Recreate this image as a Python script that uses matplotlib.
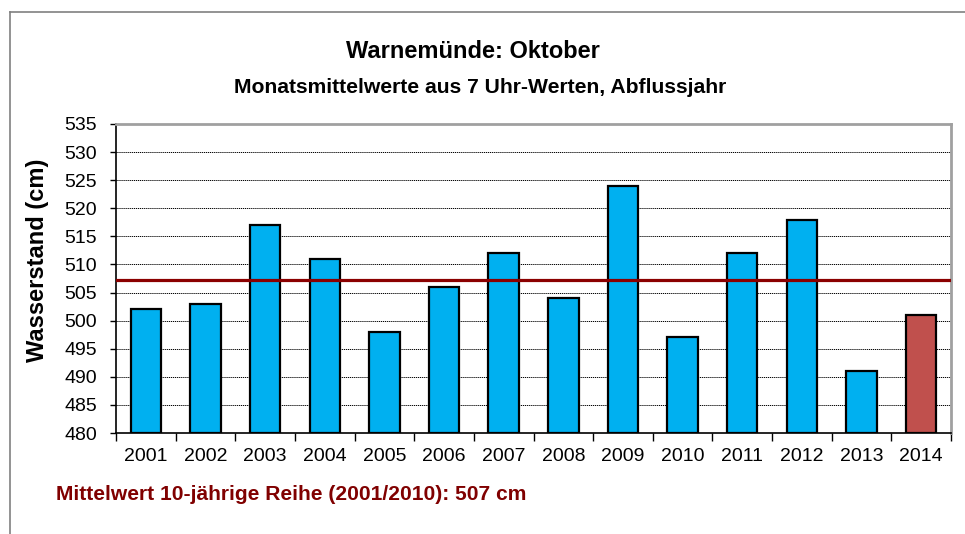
import matplotlib
matplotlib.use('Agg')
import matplotlib.pyplot as plt
from matplotlib.lines import Line2D
import numpy as np

plt.rcParams['font.family'] = ['Liberation Sans', 'DejaVu Sans']

years = ['2001', '2002', '2003', '2004', '2005', '2006', '2007',
         '2008', '2009', '2010', '2011', '2012', '2013', '2014']
wasserstand = [502, 503, 517, 511, 498, 506, 512, 504, 524, 497, 512, 518, 491, 501]
mittelwert = 507.3
yticks = list(range(480, 540, 5))

# farben: letztes jahr hervorgehoben
farben = ['#00B0F0'] * (len(years) - 1) + ['#C0504D']

fig = plt.figure(figsize=(9.65, 5.34), dpi=100)
ax = fig.add_axes([116 / 965, 101 / 534, 835 / 965, 309 / 534])

x = np.arange(len(years))
ax.bar(x, [v - 480 for v in wasserstand], bottom=480, width=0.51,
       color=farben, edgecolor='black', linewidth=1.6, zorder=3)
ax.axhline(mittelwert, color='#8B0000', linewidth=2.3, zorder=4)

ax.set_xlim(-0.5, len(years) - 0.5)
ax.set_ylim(480, 535)
ax.set_yticks(yticks)
ax.set_yticklabels([str(t) for t in yticks], fontsize=14)
ax.set_xticks(x)
ax.set_xticklabels(years, fontsize=14)
ax.set_xticks(np.arange(-0.5, len(years), 1), minor=True)
ax.tick_params(axis='x', which='major', length=0, pad=11)
ax.tick_params(axis='x', which='minor', length=6, width=1, direction='out')
ax.tick_params(axis='y', length=4.5, width=1, direction='out', pad=9)

ax.grid(axis='y', color='black', linestyle=(0, (1.2, 0.8)), linewidth=0.7, zorder=0)
for s in ['top', 'right']:
    ax.spines[s].set_color('#A0A0A0')
    ax.spines[s].set_linewidth(2)
for s in ['left', 'bottom']:
    ax.spines[s].set_color('black')
    ax.spines[s].set_linewidth(1.2)

fig.text(473 / 965, 1 - 51 / 534, 'Warnemünde: Oktober', ha='center', va='center',
         fontsize=17, fontweight='bold')
fig.text(480 / 965, 1 - 87 / 534, 'Monatsmittelwerte aus 7 Uhr-Werten, Abflussjahr',
         ha='center', va='center', fontsize=15.2, fontweight='bold')
fig.text(38 / 965, 1 - 260 / 534, 'Wasserstand (cm)', rotation=90, ha='center',
         va='center', fontsize=17, fontweight='bold')
fig.text(56 / 965, 1 - 494 / 534, 'Mittelwert 10-jährige Reihe (2001/2010): 507 cm',
         ha='left', va='center', fontsize=15.1, fontweight='bold', color='#800000')

# rahmen um das diagramm
fig.add_artist(Line2D([10 / 965, 10 / 965], [0, 1 - 12 / 534], color='#808080',
                      linewidth=1.2, transform=fig.transFigure))
fig.add_artist(Line2D([10 / 965, 1], [1 - 12 / 534, 1 - 12 / 534], color='#808080',
                      linewidth=1.2, transform=fig.transFigure))

fig.savefig('out.png', dpi=100)
